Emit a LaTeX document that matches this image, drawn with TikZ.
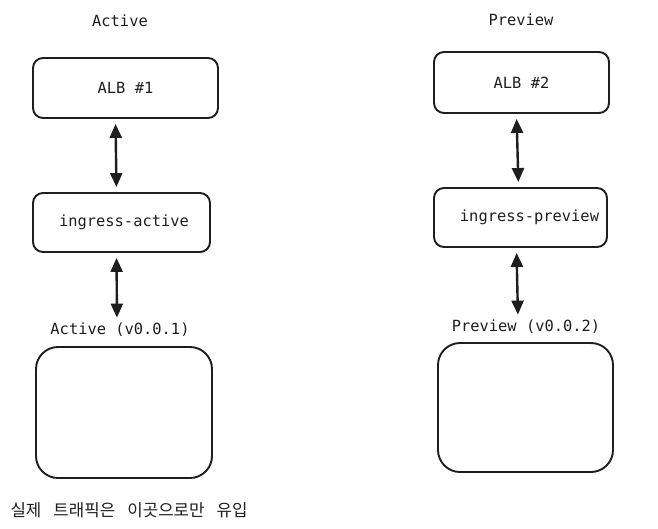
\documentclass[tikz,border=0pt]{standalone}
\usepackage{fontspec}
\setmonofont{DejaVu Sans Mono}
\newfontfamily\krfont[WordSpace=3.2]{Noto Sans CJK KR}
\usetikzlibrary{arrows.meta}
\definecolor{ink}{HTML}{1E1E1E}
\begin{document}
\begin{tikzpicture}[x=1pt,y=-1pt,
    every node/.style={font=\ttfamily\fontsize{15.4}{17}\selectfont,text=ink},
    box/.style={draw=ink,line width=1.9pt,rounded corners=10pt,inner sep=0pt},
    pod/.style={box,rounded corners=22pt},
    link/.style={draw=ink,line width=2.4pt,
      {Triangle[length=14pt,width=12pt]}-{Triangle[length=14pt,width=12pt]}}]
  \useasboundingbox (0,0) rectangle (658,528);
  % active side
  \node (act) at (120,21) {Active};
  \node[box,minimum width=185pt,minimum height=60pt] (alb1) at (125.5,88) {ALB \#1};
  \node[box,minimum width=177pt,minimum height=59pt] (ing1) at (121.5,222.5) {\hspace{5pt}ingress-active};
  \node (ver1) at (120,330) {Active (v0.0.1)};
  \node[pod,minimum width=176pt,minimum height=131pt] (pod1) at (124,412.5) {};
  % preview side
  \node (prv) at (521,20) {Preview};
  \node[box,minimum width=175pt,minimum height=61pt] (alb2) at (521.5,82.5) {ALB \#2};
  \node[box,minimum width=173pt,minimum height=59pt] (ing2) at (520.5,217.5) {\hspace{18pt}ingress-preview};
  \node (ver2) at (526,327) {Preview (v0.0.2)};
  \node[pod,minimum width=175pt,minimum height=129pt] (pod2) at (525.5,407.5) {};
  \node[anchor=west,font=\krfont\fontsize{16.8}{18}\selectfont] (note) at (7,510) {실제 트래픽은 이곳으로만 유입};
  \begin{scope}[shorten <=5pt,shorten >=5pt]
    \draw[link] ([xshift=-10pt]alb1.south) -- ([xshift=-5pt]ing1.north);
    \draw[link] ([xshift=-5pt]ing1.south) -- ([xshift=-3pt,yshift=-3pt]ver1.north);
    \draw[link] ([xshift=-5pt]alb2.south) -- ([xshift=-2pt]ing2.north);
    \draw[link] ([xshift=-4pt]ing2.south) -- ([xshift=-8pt,yshift=-3pt]ver2.north);
  \end{scope}
\end{tikzpicture}
\end{document}
